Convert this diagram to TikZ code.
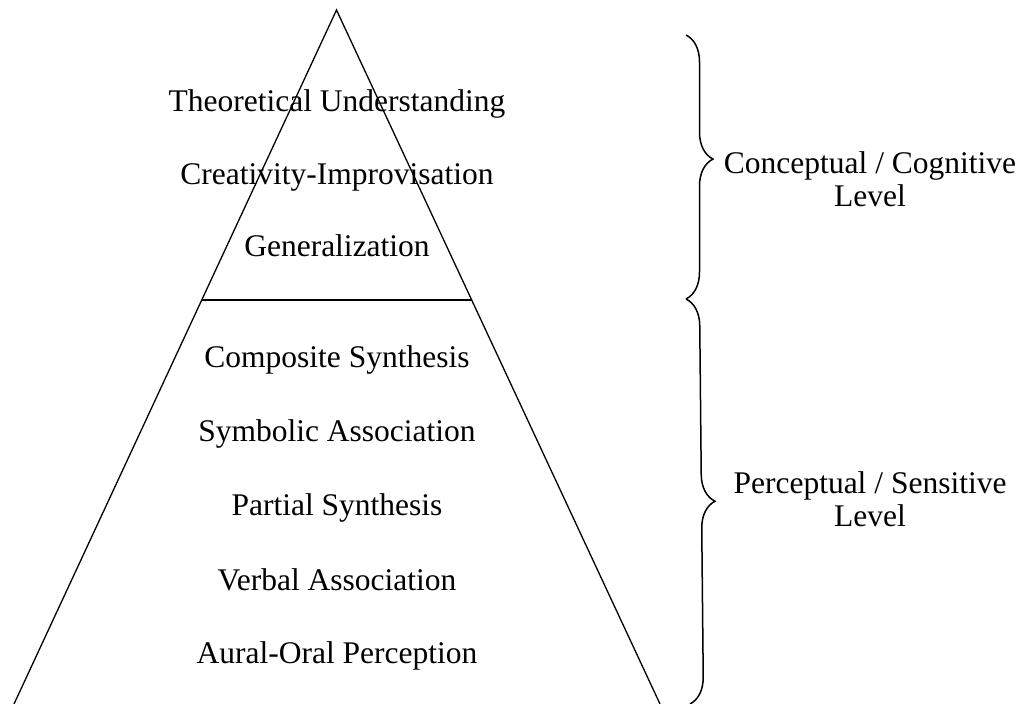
\documentclass[tikz,border=0pt]{standalone}
\usepackage{fontspec}
\setmainfont{Liberation Serif}
\usetikzlibrary{decorations.pathreplacing,calc}
\begin{document}
\begin{tikzpicture}[x=1pt,y=-1pt,
  lbl/.style={anchor=base,inner sep=0pt,font=\fontsize{31.5}{34}\selectfont},
  tri/.style={line width=1.3pt,line join=miter},
  brc/.style={line width=1.5pt,decorate,decoration={brace,amplitude=27pt,aspect=#1}},
  brc/.default=0.5]
\useasboundingbox (0,0) rectangle (1023,704);
\coordinate (A) at (336.5,10);
\coordinate (BL) at (14,704);
\coordinate (BR) at (660,704);
\draw[tri] (BL) -- (A) -- (BR);
\coordinate (ML) at ($(A)!0.4179!(BL)$);
\coordinate (MR) at ($(A)!0.4179!(BR)$);
\draw[tri] (ML) -- (MR);
\node[lbl] (t1) at (337,111.7) {Theoretical Understanding};
\node[lbl] (t2) at (337,184.3) {Creativity-Improvisation};
\node[lbl] (t3) at (337,256.7) {Generalization};
\node[lbl] (b1) at (337,367) {Composite Synthesis};
\node[lbl] (b2) at (337,441) {Symbolic Association};
\node[lbl] (b3) at (337,515) {Partial Synthesis};
\node[lbl] (b4) at (337,590) {Verbal Association};
\node[lbl] (b5) at (337,663) {Aural-Oral Perception};
\coordinate (c1) at (686,35);
\coordinate (c2) at (686,299);
\coordinate (c3) at (690,704);
\draw[brc=0.47] (c1) -- (c2);
\draw[brc=0.5] (c2) -- (c3);
\node[lbl] (u1) at (870,173) {Conceptual / Cognitive};
\node[lbl] (u2) at (870,206.7) {Level};
\node[lbl] (p1) at (870,493) {Perceptual / Sensitive};
\node[lbl] (p2) at (870,526.7) {Level};
\end{tikzpicture}
\end{document}
